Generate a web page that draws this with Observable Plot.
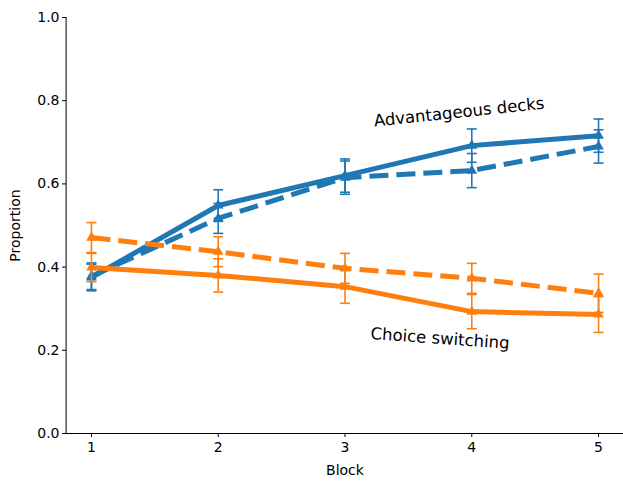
<!DOCTYPE html>
<html>
<head>
<meta charset="utf-8">
<script src="https://cdn.jsdelivr.net/npm/d3@7"></script>
<script src="https://cdn.jsdelivr.net/npm/@observablehq/plot@0.6"></script>
<style>
  body { margin: 0; background: #fff; }
  svg { font-family: "DejaVu Sans", sans-serif; }
</style>
</head>
<body>
<div id="chart"></div>
<script>
const blocks = [1, 2, 3, 4, 5];
const advSolid = [0.375, 0.548, 0.620, 0.692, 0.716];
const advSolidErr = [0.032, 0.038, 0.040, 0.040, 0.040];
const advDashed = [0.378, 0.517, 0.615, 0.632, 0.690];
const advDashedErr = [0.032, 0.036, 0.040, 0.041, 0.040];
const swSolid = [0.399, 0.380, 0.353, 0.293, 0.286];
const swSolidErr = [0.034, 0.040, 0.040, 0.041, 0.043];
const swDashed = [0.471, 0.437, 0.397, 0.373, 0.337];
const swDashedErr = [0.036, 0.036, 0.036, 0.036, 0.046];
const yTicks = [0, 0.2, 0.4, 0.6, 0.8, 1.0];
const annotations = [
  {x: 3.9, y: 0.772, text: "Advantageous decks", rotate: -6},
  {x: 3.75, y: 0.228, text: "Choice switching", rotate: 4}
];

const blue = "#1f77b4", orange = "#ff7f0e";
const series = [
  {vals: advDashed, err: advDashedErr, color: blue, dash: "19,8"},
  {vals: advSolid, err: advSolidErr, color: blue, dash: null},
  {vals: swDashed, err: swDashedErr, color: orange, dash: "19,8"},
  {vals: swSolid, err: swSolidErr, color: orange, dash: null}
];
const rows = s => blocks.map((b, i) => ({x: b, y: s.vals[i], lo: s.vals[i] - s.err[i], hi: s.vals[i] + s.err[i]}));

const cap = {draw(ctx, size) { const r = 5; ctx.moveTo(-r, 0); ctx.lineTo(r, 0); }};

const marks = [];
for (const s of series) {
  const d = rows(s);
  marks.push(Plot.line(d, {x: "x", y: "y", stroke: s.color, strokeWidth: 5, strokeDasharray: s.dash || undefined, strokeLinecap: "butt"}));
}
for (const s of series) {
  const d = rows(s);
  marks.push(Plot.ruleX(d, {x: "x", y1: "lo", y2: "hi", stroke: s.color, strokeWidth: 1.6}));
  marks.push(Plot.dot(d, {x: "x", y: "lo", symbol: cap, stroke: s.color, strokeWidth: 1.6, r: 5}));
  marks.push(Plot.dot(d, {x: "x", y: "hi", symbol: cap, stroke: s.color, strokeWidth: 1.6, r: 5}));
  marks.push(Plot.dot(d, {x: "x", y: "y", symbol: "triangle", fill: s.color, stroke: s.color, r: 3}));
}
marks.push(Plot.text(annotations, {x: "x", y: "y", text: "text", rotate: "rotate", fontSize: 16.5, fill: "black", textAnchor: "middle"}));
marks.push(Plot.ruleX([0.8], {stroke: "black", strokeWidth: 1}));
marks.push(Plot.ruleY([0], {stroke: "black", strokeWidth: 1}));

const chart = Plot.plot({
  width: 623,
  height: 482,
  marginLeft: 66,
  marginRight: 0,
  marginTop: 17,
  marginBottom: 49,
  style: {fontSize: "14px", fontFamily: "DejaVu Sans, sans-serif", color: "black", background: "white"},
  x: {domain: [0.8, 5.2], range: [65.6, 623.4], ticks: blocks, tickFormat: d3.format("d"), tickSize: 4, tickPadding: 5, label: "Block", labelAnchor: "center", labelArrow: "none", labelOffset: 41},
  y: {domain: [0, 1], ticks: yTicks, tickFormat: d3.format(".1f"), tickSize: 4, tickPadding: 3, label: "Proportion", labelAnchor: "center", labelArrow: "none", labelOffset: 56},
  marks
});
document.getElementById("chart").appendChild(chart);
</script>
</body>
</html>
